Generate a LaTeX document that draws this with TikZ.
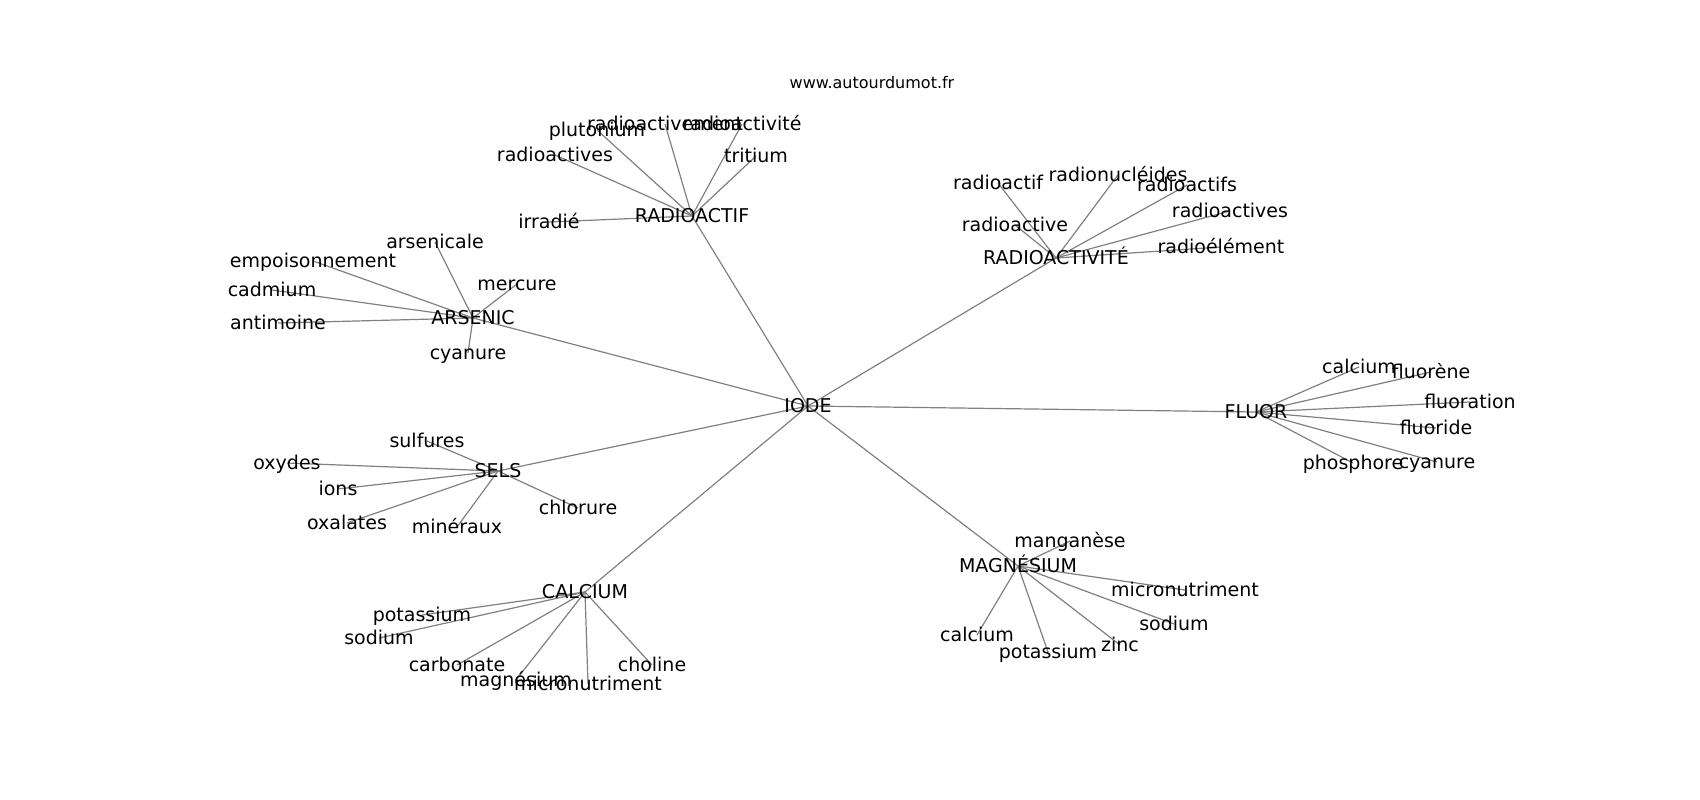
\documentclass[tikz,border=0pt]{standalone}
\usepackage{fontspec}
\setmainfont{DejaVu Sans}
\usetikzlibrary{backgrounds}
\tikzset{
  myhub/.style={
    inner sep=0pt,
    anchor=center,
    text height=1.25em,
    text depth=0pt,
    font=\fontsize{19}{22}\selectfont
  },
  myleaf/.style={
    myhub
  },
  myedge/.style={
    draw=gray,
    line width=1.2pt,
  },
  mytitle/.style={
    inner sep=0pt,
    font=\fontsize{16}{19}\selectfont
  }
}

\begin{document}
\begin{tikzpicture}[x=1pt, y=-1pt]
    \useasboundingbox (0,0) rectangle (1700,800);

    \node [mytitle] (site) at (872, 83) {www.autourdumot.fr};

    \node [myhub] (iode) at (808, 406) {IODE};

    \node [myhub] (radioactif) at (692, 216) {RADIOACTIF};
    \node [myleaf] (ra1) at (549, 222) {irradié};
    \node [myleaf] (ra2) at (555, 155) {radioactives};
    \node [myleaf] (ra3) at (597, 130) {plutonium};
    \node [myleaf] (ra4) at (665, 124) {radioactivement};
    \node [myleaf] (ra5) at (742, 124) {radioactivité};
    \node [myleaf] (ra6) at (756, 156) {tritium};

    \node [myhub] (arsenic) at (473, 318) {ARSENIC};
    \node [myleaf] (ar1) at (435, 242) {arsenicale};
    \node [myleaf] (ar2) at (313, 261) {empoisonnement};
    \node [myleaf] (ar3) at (272, 290) {cadmium};
    \node [myleaf] (ar4) at (278, 323) {antimoine};
    \node [myleaf] (ar5) at (517, 284) {mercure};
    \node [myleaf] (ar6) at (468, 353) {cyanure};

    \node [myhub] (radioactivite) at (1056, 258) {RADIOACTIVITÉ};
    \node [myleaf] (rv1) at (998, 183) {radioactif};
    \node [myleaf] (rv2) at (1118, 175) {radionucléides};
    \node [myleaf] (rv3) at (1187, 185) {radioactifs};
    \node [myleaf] (rv4) at (1230, 211) {radioactives};
    \node [myleaf] (rv5) at (1015, 225) {radioactive};
    \node [myleaf] (rv6) at (1221, 247) {radioélément};

    \node [myhub] (fluor) at (1256, 412) {FLUOR};
    \node [myleaf] (fl1) at (1359, 367) {calcium};
    \node [myleaf] (fl2) at (1431, 372) {fluorène};
    \node [myleaf] (fl3) at (1470, 402) {fluoration};
    \node [myleaf] (fl4) at (1436, 428) {fluoride};
    \node [myleaf] (fl5) at (1437, 462) {cyanure};
    \node [myleaf] (fl6) at (1353, 463) {phosphore};

    \node [myhub] (sels) at (498, 471) {SELS};
    \node [myleaf] (se1) at (427, 441) {sulfures};
    \node [myleaf] (se2) at (287, 463) {oxydes};
    \node [myleaf] (se3) at (338, 489) {ions};
    \node [myleaf] (se4) at (347, 523) {oxalates};
    \node [myleaf] (se5) at (457, 527) {minéraux};
    \node [myleaf] (se6) at (578, 508) {chlorure};

    \node [myhub] (calcium) at (585, 592) {CALCIUM};
    \node [myleaf] (ca1) at (422, 615) {potassium};
    \node [myleaf] (ca2) at (379, 638) {sodium};
    \node [myleaf] (ca3) at (457, 665) {carbonate};
    \node [myleaf] (ca4) at (516, 680) {magnésium};
    \node [myleaf] (ca5) at (588, 684) {micronutriment};
    \node [myleaf] (ca6) at (652, 665) {choline};

    \node [myhub] (magnesium) at (1018, 566) {MAGNÉSIUM};
    \node [myleaf] (ma1) at (1070, 541) {manganèse};
    \node [myleaf] (ma2) at (1185, 590) {micronutriment};
    \node [myleaf] (ma3) at (1174, 624) {sodium};
    \node [myleaf] (ma4) at (1120, 645) {zinc};
    \node [myleaf] (ma5) at (977, 635) {calcium};
    \node [myleaf] (ma6) at (1048, 652) {potassium};

    % edges go under the labels
    \begin{scope}[on background layer]
        \foreach \hub in {radioactif, arsenic, radioactivite, fluor, sels, calcium, magnesium}
            \draw [myedge] (iode.center) -- (\hub.center);
        \foreach \hub/\pre in {radioactif/ra, arsenic/ar, radioactivite/rv, fluor/fl, sels/se, calcium/ca, magnesium/ma}
            \foreach \i in {1,...,6}
                \draw [myedge] (\hub.center) -- (\pre\i.center);
    \end{scope}

\end{tikzpicture}
\end{document}
